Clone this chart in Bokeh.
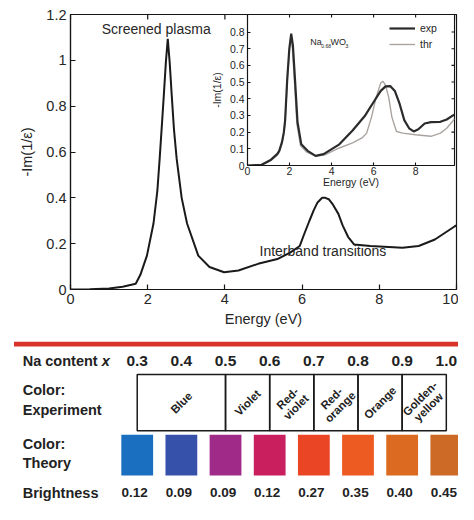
import numpy as np
from bokeh.plotting import figure
from bokeh.models import Range1d, FixedTicker, CustomJSTickFormatter, Legend, LegendItem
from bokeh.layouts import column
from bokeh.core.properties import value
from bokeh.embed import file_html
from bokeh.resources import INLINE

FONT = "Liberation Sans"
TXT = "#262626"
INK = "#151515"

# ---------------- data ----------------
main_energy = [0.0, 0.5, 1.0, 1.35, 1.69, 1.81, 1.98, 2.15, 2.25, 2.31, 2.38, 2.42, 2.47,
               2.52, 2.57, 2.62, 2.68, 2.75, 2.88, 3.02, 3.31, 3.6, 3.98, 4.35, 4.86, 5.36,
               5.69, 5.94, 6.05, 6.19, 6.3, 6.4, 6.52, 6.6, 6.69, 6.8, 6.94, 7.05, 7.19,
               7.35, 7.77, 8.6, 9.02, 9.44, 9.94, 10.0]
main_loss = [0.0, 0.001, 0.004, 0.012, 0.025, 0.064, 0.148, 0.288, 0.43, 0.571, 0.75, 0.854,
             0.99, 1.094, 0.99, 0.854, 0.70, 0.571, 0.40, 0.288, 0.148, 0.098, 0.075, 0.083,
             0.112, 0.133, 0.161, 0.19, 0.24, 0.30, 0.345, 0.38, 0.40, 0.40, 0.394, 0.37,
             0.33, 0.28, 0.23, 0.196, 0.19, 0.182, 0.19, 0.218, 0.274, 0.28]

exp_energy = [0.0, 0.67, 0.9, 1.12, 1.42, 1.51, 1.64, 1.73, 1.79, 1.89, 1.99, 2.08, 2.16,
              2.26, 2.38, 2.56, 2.86, 3.24, 3.62, 4.37, 5.0, 5.6, 6.04, 6.34, 6.57, 6.79,
              7.01, 7.24, 7.46, 7.69, 7.91, 8.13, 8.43, 8.73, 9.18, 9.48, 9.78, 9.85]
exp_loss = [0.0, 0.004, 0.02, 0.035, 0.07, 0.088, 0.14, 0.20, 0.27, 0.516, 0.70, 0.79, 0.72,
            0.516, 0.26, 0.127, 0.088, 0.058, 0.068, 0.127, 0.21, 0.30, 0.388, 0.447, 0.474,
            0.476, 0.447, 0.369, 0.272, 0.223, 0.204, 0.217, 0.252, 0.26, 0.262, 0.276, 0.30,
            0.305]

thr_energy = [0.0, 0.67, 0.9, 1.12, 1.42, 1.51, 1.64, 1.73, 1.79, 1.9, 2.0, 2.07, 2.14,
              2.24, 2.35, 2.52, 2.8, 3.24, 3.66, 4.37, 5.0, 5.45, 5.67, 5.9, 6.12, 6.34,
              6.45, 6.57, 6.72, 6.87, 7.09, 7.39, 7.99, 8.73, 9.18, 9.48, 9.78, 9.85]
thr_loss = [0.0, 0.003, 0.016, 0.03, 0.062, 0.08, 0.13, 0.19, 0.26, 0.52, 0.70, 0.78, 0.70,
            0.49, 0.25, 0.12, 0.082, 0.056, 0.062, 0.105, 0.136, 0.165, 0.194, 0.29, 0.408,
            0.495, 0.505, 0.48, 0.408, 0.29, 0.204, 0.194, 0.184, 0.175, 0.194, 0.223, 0.268,
            0.28]

main_xticks = [0, 2, 4, 6, 8, 10]
main_yticks = [0, 0.2, 0.4, 0.6, 0.8, 1.0, 1.2]
inset_xticks = [0, 2, 4, 6, 8]
inset_yticks = [0, 0.1, 0.2, 0.3, 0.4, 0.5, 0.6, 0.7, 0.8]

na_content = [0.3, 0.4, 0.5, 0.6, 0.7, 0.8, 0.9, 1.0]
na_labels = ["0.3", "0.4", "0.5", "0.6", "0.7", "0.8", "0.9", "1.0"]
exp_names = ["Blue", "Violet", "Red-\nviolet", "Red-\norange", "Orange", "Golden-\nyellow"]
exp_from = [0.3, 0.5, 0.6, 0.7, 0.8, 0.9]
exp_to = [0.5, 0.6, 0.7, 0.8, 0.9, 1.0]
theory_colors = ["#1b6fc1", "#3651a9", "#a02a88", "#c91f5e", "#ea4524", "#ee5b22",
                 "#dc6a21", "#cc6a26"]
brightness = ["0.12", "0.09", "0.09", "0.12", "0.27", "0.35", "0.40", "0.45"]

fmt = CustomJSTickFormatter(code="return (Math.round(tick*100)/100).toString();")


def style_axis(ax, size, tick_in, standoff, label_standoff, lw=1.2):
    ax.major_tick_in = tick_in
    ax.major_tick_out = 0
    ax.minor_tick_in = 0
    ax.minor_tick_out = 0
    ax.major_label_text_font = FONT
    ax.major_label_text_font_size = f"{size}px"
    ax.major_label_text_color = TXT
    ax.axis_label_text_font = FONT
    ax.axis_label_text_font_size = f"{size}px"
    ax.axis_label_text_font_style = "normal"
    ax.axis_label_text_color = TXT
    ax.axis_line_color = INK
    ax.axis_line_width = lw
    ax.major_tick_line_color = INK
    ax.major_tick_line_width = lw
    ax.major_label_standoff = standoff
    ax.axis_label_standoff = label_standoff


def edge_ticks(p, ticks, at, side, length, lw=1.2):
    """Inward tick marks on the top / right frame edge (clipped to the frame)."""
    if side == "top":
        p.scatter(x=ticks, y=[at] * len(ticks), marker="dash", angle=np.pi / 2,
                  size=2 * length, line_color=INK, line_width=lw)
    else:
        p.scatter(x=[at] * len(ticks), y=ticks, marker="dash", angle=0,
                  size=2 * length, line_color=INK, line_width=lw)


# ---------------- main plot ----------------
main = figure(width=458, height=340, x_range=Range1d(0, 10), y_range=Range1d(0, 1.2),
              output_backend="svg", toolbar_location=None, frame_align=False,
              min_border_left=70, min_border_right=2, min_border_top=14, min_border_bottom=51,
              background_fill_color="white", border_fill_color="white",
              outline_line_color=INK, outline_line_width=1.2)
main.grid.visible = False
main.xaxis.ticker = FixedTicker(ticks=main_xticks)
main.yaxis.ticker = FixedTicker(ticks=main_yticks)
main.xaxis.formatter = fmt
main.yaxis.formatter = fmt
main.xaxis.axis_label = "Energy (eV)"
main.yaxis.axis_label = "-Im(1/ε)"
style_axis(main.xaxis[0], 14.5, 5, 4, 4)
style_axis(main.yaxis[0], 14.5, 5, 4, 8)
edge_ticks(main, main_xticks, 1.2, "top", 5)

main.line(main_energy, main_loss, line_color="#1a1a1a", line_width=2)
main.text(x=[2.22], y=[1.136], text=["Screened plasma"], text_font=value(FONT),
          text_font_size="14px", text_color=TXT, text_align="center", text_baseline="middle")
main.text(x=[6.54], y=[0.166], text=["Interband transitions"], text_font=value(FONT),
          text_font_size="14px", text_color=TXT, text_align="center", text_baseline="middle")

# ---------------- inset ----------------
inset = figure(width=251, height=190, x_range=Range1d(0, 9.85), y_range=Range1d(0, 0.905),
               output_backend="svg", toolbar_location=None, frame_align=False,
               min_border_left=37, min_border_right=4, min_border_top=14, min_border_bottom=25,
               background_fill_color="white", border_fill_alpha=0,
               outline_line_color=INK, outline_line_width=1.1,
               styles={"position": "absolute", "left": "207px", "top": "0px", "z-index": "5"})
inset.grid.visible = False
inset.xaxis.ticker = FixedTicker(ticks=inset_xticks)
inset.yaxis.ticker = FixedTicker(ticks=inset_yticks)
inset.xaxis.formatter = fmt
inset.yaxis.formatter = fmt
inset.xaxis.axis_label = "Energy (eV)"
inset.yaxis.axis_label = "-Im(1/ε)"
style_axis(inset.xaxis[0], 10.5, 3, 1, -2, 1.1)
style_axis(inset.yaxis[0], 10.5, 3, 3, 4, 1.1)
edge_ticks(inset, inset_xticks, 0.905, "top", 3, 1.1)
edge_ticks(inset, inset_yticks, 9.85, "right", 3, 1.1)

r_thr = inset.line(thr_energy, thr_loss, line_color="#aaa4a1", line_width=1.4)
r_exp = inset.line(exp_energy, exp_loss, line_color="#2b2b2b", line_width=2.2)
leg = Legend(items=[LegendItem(label="exp", renderers=[r_exp]),
                    LegendItem(label="thr", renderers=[r_thr])],
             location=(142, 114), border_line_color=None, background_fill_alpha=0,
             label_text_font=FONT, label_text_font_size="10.5px", label_text_color=TXT,
             glyph_width=26, glyph_height=14, label_height=14, spacing=2, padding=2,
             margin=0, label_standoff=5)
inset.add_layout(leg)

formula_x = [2.99, 3.51, 3.95, 4.65]
formula_y = [0.742, 0.718, 0.742, 0.718]
formula_txt = ["Na", "0.68", "WO", "3"]
formula_size = ["9px", "5px", "9px", "5.5px"]
for fx, fy, ft, fs in zip(formula_x, formula_y, formula_txt, formula_size):
    inset.text(x=[fx], y=[fy], text=[ft], text_font=value(FONT), text_font_size=fs,
               text_color=TXT, text_align="left", text_baseline="middle")

# ---------------- table ----------------
tab = figure(width=458, height=164, x_range=Range1d(-0.0096, 1.0276),
             y_range=Range1d(520, 350.8), x_axis_type=None, y_axis_type=None,
             output_backend="svg", toolbar_location=None, frame_align=False,
             min_border=0, outline_line_color=None, background_fill_color="white",
             border_fill_color="white")
tab.grid.visible = False

ROW = {"rule": 354.5, "na": 372, "exp1": 402, "exp2": 423, "cell_top": 386, "cell_bot": 444,
       "th1": 458, "th2": 477, "box": 469, "box_h": 42, "bright": 508}
LABEL_X = 0.0407
RULE_X = [0.021, 1.0276]
bold = dict(text_font=value(FONT), text_font_style="bold", text_color="#222",
            text_baseline="middle")

tab.segment(x0=[RULE_X[0]], x1=[RULE_X[1]], y0=[ROW["rule"]], y1=[ROW["rule"]],
            line_color="#d8322b", line_width=4.8)

tab.text(x=[LABEL_X], y=[ROW["na"]], text=["Na content"], text_font_size="14.5px",
         text_align="left", **bold)
tab.text(x=[LABEL_X], y=[ROW["na"]], text=["x"], x_offset=79, text_font_size="14.5px",
         text_align="left", text_font=value(FONT), text_font_style="bold italic",
         text_color="#222", text_baseline="middle")
tab.text(x=[LABEL_X] * 5, y=[ROW["exp1"], ROW["exp2"], ROW["th1"], ROW["th2"], ROW["bright"]],
         text=["Color:", "Experiment", "Color:", "Theory", "Brightness"],
         text_font_size="14.5px", text_align="left", **bold)

tab.text(x=na_content, y=[ROW["na"]] * len(na_content), text=na_labels,
         text_font_size="15.5px", text_align="center", **bold)

tab.quad(left=exp_from, right=exp_to, top=ROW["cell_top"], bottom=ROW["cell_bot"],
         fill_color=None, line_color="#1a1a1a", line_width=1.5)
mid = [(a + b) / 2 for a, b in zip(exp_from, exp_to)]
tab.text(x=mid, y=[(ROW["cell_top"] + ROW["cell_bot"]) / 2] * len(mid), text=exp_names,
         angle=np.pi / 4, text_font_size="11.5px", text_align="center", text_line_height=1.0,
         **bold)

tab.rect(x=na_content, y=[ROW["box"]] * len(na_content), width=0.072, height=ROW["box_h"],
         fill_color=theory_colors, line_color=None)

tab.text(x=na_content, y=[ROW["bright"]] * len(na_content), text=brightness, x_offset=-2.5,
         text_font_size="13.5px", text_align="center", **bold)

layout = column(main, tab, inset, spacing=0)
open("out.html", "w").write(file_html(layout, INLINE))
